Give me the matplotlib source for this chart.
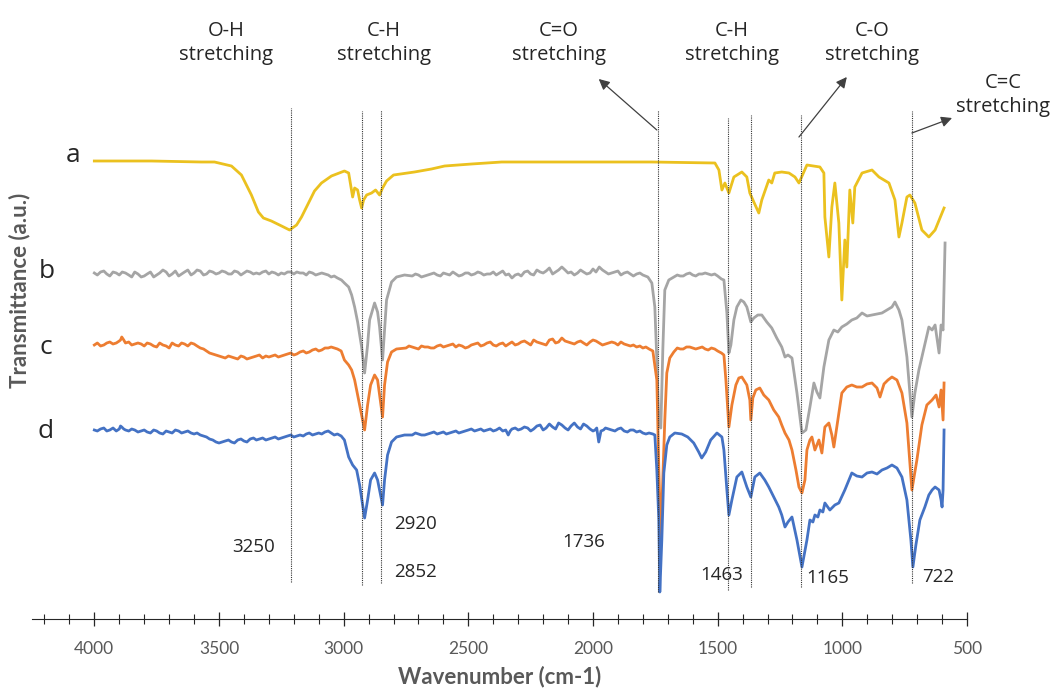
import matplotlib.pyplot as plt
from matplotlib.ticker import MultipleLocator

# FTIR spectra, (wavenumber cm-1, transmittance a.u.)
spec_a = [(4000, 458), (3771, 458), (3571, 457), (3518, 457), (3450, 453), (3410, 444),
          (3370, 424), (3342, 407), (3322, 401), (3290, 398), (3249, 393), (3217, 389),
          (3189, 394), (3169, 402), (3141, 416), (3117, 428), (3089, 436), (3049, 443),
          (2997, 448), (2980, 446), (2972, 434), (2964, 422), (2956, 431), (2944, 429),
          (2936, 419), (2928, 411), (2920, 419), (2908, 424), (2888, 426), (2872, 429),
          (2856, 424), (2844, 431), (2828, 438), (2800, 444), (2716, 447), (2648, 450),
          (2595, 453), (2487, 455), (2366, 457), (2126, 457), (1765, 457), (1511, 456),
          (1495, 449), (1483, 429), (1471, 436), (1455, 426), (1435, 442), (1403, 447),
          (1383, 442), (1371, 426), (1355, 417), (1335, 406), (1323, 419), (1295, 439),
          (1283, 436), (1271, 446), (1243, 447), (1214, 446), (1190, 442), (1174, 436),
          (1142, 454), (1090, 452), (1074, 446), (1070, 402), (1054, 362), (1042, 412),
          (1030, 436), (1014, 396), (1002, 319), (990, 379), (982, 352), (970, 429),
          (958, 396), (950, 432), (921, 446), (881, 449), (853, 442), (813, 436),
          (789, 419), (773, 382), (761, 396), (741, 422), (729, 424), (709, 416),
          (681, 389), (653, 382), (628, 389), (592, 411)]

spec_b = [(4000, 346), (3975, 347), (3950, 345), (3925, 347), (3900, 344), (3875, 346),
          (3850, 342), (3825, 345), (3800, 343), (3775, 347), (3750, 344), (3725, 349),
          (3700, 343), (3675, 348), (3650, 345), (3625, 349), (3600, 346), (3575, 348),
          (3550, 345), (3525, 347), (3500, 346), (3475, 347), (3450, 345), (3425, 347),
          (3400, 346), (3375, 347), (3350, 346), (3325, 347), (3300, 345), (3275, 346),
          (3250, 346), (3225, 347), (3200, 345), (3175, 346), (3150, 344), (3125, 346),
          (3100, 345), (3075, 345), (3050, 342), (3025, 341), (3009, 339), (2997, 336),
          (2980, 332), (2968, 324), (2956, 312), (2944, 297), (2928, 272), (2916, 246),
          (2904, 274), (2896, 299), (2876, 316), (2864, 307), (2856, 292), (2844, 259),
          (2836, 289), (2828, 319), (2808, 337), (2788, 342), (2756, 344), (2725, 343),
          (2700, 344), (2675, 343), (2650, 345), (2625, 344), (2600, 346), (2575, 344),
          (2550, 345), (2525, 344), (2500, 346), (2475, 345), (2450, 346), (2425, 345),
          (2400, 347), (2375, 346), (2350, 344), (2325, 341), (2300, 345), (2275, 347),
          (2250, 345), (2225, 349), (2200, 346), (2175, 351), (2150, 347), (2125, 352),
          (2100, 346), (2075, 344), (2050, 349), (2025, 345), (2000, 350), (1975, 352),
          (1950, 347), (1925, 346), (1900, 348), (1875, 346), (1850, 345), (1825, 345),
          (1800, 344), (1780, 342), (1764, 336), (1752, 312), (1744, 259), (1736, 194),
          (1728, 191), (1720, 269), (1712, 329), (1696, 339), (1676, 342), (1650, 343),
          (1625, 345), (1600, 344), (1575, 345), (1550, 346), (1525, 344), (1500, 343),
          (1485, 340), (1475, 339), (1463, 306), (1455, 266), (1447, 274), (1435, 299),
          (1423, 312), (1407, 319), (1395, 317), (1383, 312), (1367, 297), (1355, 301),
          (1339, 304), (1323, 304), (1303, 297), (1283, 291), (1263, 281), (1243, 272),
          (1230, 262), (1218, 264), (1202, 261), (1182, 226), (1162, 186), (1146, 189),
          (1130, 212), (1114, 236), (1102, 227), (1090, 221), (1074, 252), (1054, 279),
          (1034, 289), (1018, 287), (1002, 292), (982, 295), (962, 299), (942, 301),
          (921, 306), (901, 303), (881, 304), (861, 305), (841, 306), (821, 309),
          (801, 312), (789, 317), (773, 309), (761, 299), (741, 262), (721, 202),
          (709, 226), (693, 249), (681, 262), (665, 279), (653, 292), (640, 289),
          (628, 294), (612, 266), (604, 294), (596, 289), (588, 376)]
# finer noise read between the points above
noise_b = [(3988, 344), (3962, 348), (3938, 343), (3912, 346), (3888, 347), (3862, 344),
           (3838, 347), (3812, 342), (3788, 345), (3762, 342), (3738, 346), (3712, 347),
           (3688, 345), (3662, 343), (3638, 347), (3612, 344), (3588, 349), (3562, 344),
           (3538, 348), (3512, 345), (3488, 348), (3462, 345), (3438, 348), (3412, 344),
           (3388, 348), (3362, 345), (3338, 345), (3312, 348), (3288, 347), (3262, 344),
           (3238, 345), (3212, 347), (3188, 347), (3162, 346), (3138, 347), (3112, 344),
           (3088, 346), (3062, 344), (3038, 343), (2712, 345), (2688, 342), (2662, 344),
           (2638, 346), (2612, 343), (2588, 345), (2562, 347), (2538, 343), (2512, 346),
           (2488, 344), (2462, 347), (2438, 344), (2412, 345), (2388, 344), (2362, 348),
           (2338, 345), (2312, 344), (2288, 343), (2262, 348), (2238, 344), (2212, 347),
           (2188, 348), (2162, 345), (2138, 349), (2112, 349), (2088, 347), (2062, 346),
           (2038, 347), (2012, 346), (1988, 347), (1962, 349), (1938, 345), (1912, 347),
           (1888, 344), (1862, 347), (1838, 343), (1812, 346), (1790, 343), (1662, 344),
           (1638, 343), (1612, 346), (1588, 343), (1562, 345), (1538, 345), (1512, 345)]

spec_c = [(4000, 274), (3975, 273), (3950, 276), (3925, 275), (3900, 278), (3890, 282),
          (3875, 276), (3850, 274), (3825, 276), (3800, 273), (3775, 275), (3750, 272),
          (3725, 274), (3700, 271), (3675, 274), (3650, 276), (3625, 273), (3600, 275),
          (3575, 271), (3550, 268), (3525, 265), (3500, 263), (3475, 261), (3450, 262),
          (3425, 260), (3400, 262), (3375, 261), (3350, 263), (3325, 261), (3300, 262),
          (3275, 264), (3250, 263), (3225, 265), (3200, 264), (3175, 267), (3150, 266),
          (3125, 269), (3100, 268), (3075, 271), (3050, 272), (3025, 270), (3010, 268),
          (2997, 259), (2980, 254), (2968, 249), (2956, 239), (2944, 224), (2928, 204),
          (2916, 189), (2904, 214), (2892, 234), (2876, 244), (2864, 239), (2856, 224),
          (2844, 202), (2836, 234), (2824, 257), (2808, 267), (2788, 270), (2750, 271),
          (2725, 272), (2700, 270), (2675, 272), (2650, 271), (2625, 273), (2600, 272),
          (2575, 274), (2550, 272), (2525, 273), (2500, 272), (2475, 275), (2450, 273),
          (2425, 276), (2400, 274), (2375, 275), (2350, 273), (2325, 277), (2300, 275),
          (2275, 278), (2250, 274), (2225, 277), (2200, 275), (2175, 279), (2150, 276),
          (2125, 281), (2100, 277), (2075, 275), (2050, 278), (2025, 274), (2000, 279),
          (1975, 276), (1950, 275), (1925, 277), (1900, 274), (1875, 275), (1850, 273),
          (1825, 272), (1800, 271), (1775, 270), (1760, 268), (1744, 239), (1736, 149),
          (1728, 82), (1720, 139), (1712, 199), (1704, 246), (1692, 261), (1676, 267),
          (1650, 270), (1625, 272), (1600, 271), (1575, 271), (1550, 270), (1525, 271),
          (1500, 268), (1485, 266), (1475, 264), (1467, 239), (1455, 192), (1443, 214),
          (1427, 234), (1415, 241), (1403, 242), (1383, 234), (1371, 219), (1367, 199),
          (1359, 221), (1347, 229), (1331, 231), (1315, 224), (1295, 219), (1275, 209),
          (1255, 202), (1243, 194), (1230, 186), (1214, 179), (1202, 169), (1186, 149),
          (1174, 132), (1162, 126), (1150, 139), (1142, 169), (1130, 179), (1122, 182),
          (1110, 169), (1094, 179), (1082, 166), (1070, 192), (1054, 196), (1042, 184),
          (1034, 172), (1022, 192), (1002, 226), (982, 232), (962, 234), (942, 232),
          (921, 232), (901, 235), (881, 236), (861, 231), (849, 222), (833, 235),
          (817, 239), (801, 242), (781, 239), (761, 226), (741, 196), (721, 129),
          (701, 159), (681, 194), (661, 214), (640, 219), (624, 224), (612, 212),
          (604, 229), (596, 199), (592, 236)]
noise_c = [(3988, 276), (3962, 274), (3938, 277), (3912, 276), (3895, 279), (3882, 279),
           (3862, 277), (3838, 275), (3812, 275), (3788, 276), (3762, 273), (3738, 276),
           (3712, 273), (3688, 276), (3662, 273), (3638, 275), (3612, 276), (3588, 273),
           (3562, 270), (3538, 266), (3512, 264), (3488, 262), (3462, 263), (3438, 261),
           (3412, 263), (3388, 260), (3362, 262), (3338, 264), (3312, 263), (3288, 263),
           (3262, 262), (3238, 264), (3212, 266), (3188, 265), (3162, 268), (3138, 267),
           (3112, 270), (3088, 269), (3062, 271), (3038, 271), (2738, 273), (2712, 271),
           (2688, 273), (2662, 272), (2638, 271), (2612, 274), (2588, 273), (2562, 275),
           (2538, 274), (2512, 271), (2488, 274), (2462, 276), (2438, 274), (2412, 277),
           (2388, 273), (2362, 276), (2338, 275), (2312, 274), (2288, 277), (2262, 276),
           (2238, 279), (2212, 276), (2188, 274), (2162, 280), (2138, 277), (2112, 278),
           (2088, 276), (2062, 277), (2038, 276), (2012, 277), (1988, 278), (1962, 274),
           (1938, 276), (1912, 276), (1888, 277), (1862, 274), (1838, 274), (1812, 273),
           (1788, 272), (1662, 271), (1638, 270), (1612, 272), (1588, 270), (1562, 272),
           (1538, 269), (1512, 270)]

spec_d = [(4000, 189), (3975, 190), (3950, 188), (3925, 191), (3900, 190), (3890, 192),
          (3875, 189), (3850, 190), (3825, 187), (3800, 189), (3775, 186), (3750, 188),
          (3725, 185), (3700, 187), (3675, 189), (3650, 186), (3625, 188), (3600, 185),
          (3575, 184), (3550, 182), (3525, 179), (3500, 176), (3475, 178), (3450, 177),
          (3425, 179), (3400, 178), (3375, 180), (3350, 179), (3325, 181), (3300, 180),
          (3275, 182), (3250, 181), (3225, 183), (3200, 182), (3175, 184), (3150, 185),
          (3125, 184), (3100, 186), (3075, 187), (3050, 186), (3025, 185), (3010, 183),
          (2997, 179), (2980, 162), (2964, 154), (2948, 149), (2936, 134), (2924, 114),
          (2916, 101), (2904, 119), (2892, 139), (2876, 146), (2864, 139), (2856, 129),
          (2844, 114), (2836, 139), (2824, 164), (2808, 177), (2788, 182), (2756, 184),
          (2725, 184), (2700, 185), (2675, 184), (2650, 186), (2625, 185), (2600, 187),
          (2575, 186), (2550, 188), (2525, 187), (2500, 189), (2475, 188), (2450, 190),
          (2425, 189), (2400, 188), (2375, 191), (2350, 189), (2340, 184), (2325, 190),
          (2300, 189), (2275, 192), (2250, 188), (2225, 193), (2200, 189), (2175, 195),
          (2150, 190), (2125, 194), (2100, 189), (2075, 196), (2050, 190), (2025, 193),
          (2000, 188), (1985, 191), (1977, 177), (1968, 188), (1950, 191), (1925, 189),
          (1900, 190), (1875, 188), (1850, 189), (1825, 187), (1800, 186), (1775, 186),
          (1760, 185), (1752, 184), (1744, 149), (1736, 99), (1732, 27), (1724, 79),
          (1716, 146), (1704, 174), (1692, 182), (1672, 186), (1644, 185), (1620, 182),
          (1596, 176), (1576, 167), (1564, 161), (1548, 167), (1528, 179), (1503, 186),
          (1483, 182), (1475, 169), (1463, 129), (1455, 104), (1443, 119), (1423, 142),
          (1403, 147), (1383, 132), (1367, 122), (1351, 142), (1331, 146), (1311, 139),
          (1295, 132), (1275, 122), (1255, 112), (1243, 104), (1230, 92), (1218, 97),
          (1202, 102), (1182, 79), (1162, 52), (1142, 79), (1130, 99), (1118, 97),
          (1110, 104), (1098, 102), (1090, 109), (1078, 107), (1070, 116), (1050, 109),
          (1030, 114), (1014, 116), (990, 129), (962, 146), (942, 143), (921, 142),
          (901, 146), (881, 147), (861, 145), (841, 149), (821, 151), (801, 154),
          (781, 151), (761, 142), (741, 119), (725, 79), (717, 52), (705, 74),
          (689, 99), (669, 112), (653, 124), (640, 129), (628, 132), (612, 129),
          (604, 119), (600, 112), (596, 129), (592, 189)]
noise_d = [(3988, 188), (3962, 191), (3938, 189), (3912, 188), (3895, 193), (3882, 190),
           (3862, 188), (3838, 189), (3812, 188), (3788, 187), (3762, 189), (3738, 186),
           (3712, 188), (3688, 186), (3662, 188), (3638, 187), (3612, 186), (3588, 186),
           (3562, 183), (3538, 180), (3512, 177), (3488, 177), (3462, 179), (3438, 176),
           (3412, 180), (3388, 177), (3362, 181), (3338, 180), (3312, 179), (3288, 181),
           (3262, 180), (3238, 182), (3212, 184), (3188, 183), (3162, 183), (3138, 186),
           (3112, 185), (3088, 185), (3062, 188), (3038, 184), (2712, 186), (2688, 184),
           (2662, 185), (2638, 187), (2612, 186), (2588, 185), (2562, 187), (2538, 186),
           (2512, 188), (2488, 190), (2462, 189), (2438, 188), (2412, 190), (2388, 189),
           (2362, 188), (2332, 188), (2312, 191), (2288, 190), (2262, 191), (2238, 190),
           (2212, 194), (2188, 191), (2162, 192), (2138, 196), (2112, 191), (2088, 193),
           (2062, 192), (2038, 195), (2012, 190), (1992, 189), (1958, 189), (1938, 190),
           (1912, 188), (1888, 191), (1862, 187), (1838, 189), (1812, 188), (1788, 185)]

series_names = ["a", "b", "c", "d"]
series_colors = ["#EBC11F", "#A5A5A5", "#ED7D31", "#4472C4"]
label_pos = [(4085, 464), (4190, 347), (4195, 271), (4195, 187)]

# dotted marker lines: wavenumber, bottom, top
peak_lines = [(3210, 37, 511), (2928, 34, 508), (2850, 36, 509), (1740, 27, 509),
              (1460, 29, 501), (1365, 32, 504), (1166, 32, 504), (722, 36, 508)]

# band names: text, wavenumber, height
bands = [("O-H\nstretching", 3470, 576), ("C-H\nstretching", 2840, 576),
         ("C=O\nstretching", 2138, 576), ("C-H\nstretching", 1443, 576),
         ("C-O\nstretching", 881, 576), ("C=C\nstretching", 355, 524)]

peak_labels = [("3250", 3362, 72), ("2920", 2712, 95), ("2852", 2712, 47),
               ("1736", 2037, 77), ("1463", 1483, 44), ("1165", 1058, 41),
               ("722", 616, 42)]

# arrows: tail -> head
arrows = [((1744, 489), (1977, 540)), ((1174, 482), (982, 542)), ((721, 486), (560, 501))]

fig = plt.figure(figsize=(10.57, 6.88), dpi=100)
ax = fig.add_axes([32 / 1057, 69 / 688, 935 / 1057, 619 / 688])

all_specs = [spec_a, spec_b + noise_b, spec_c + noise_c, spec_d + noise_d]
for spec, col in zip(all_specs, series_colors):
    spec = sorted(spec, reverse=True)
    wn = [p[0] for p in spec]
    tr = [p[1] for p in spec]
    ax.plot(wn, tr, color=col, lw=2.0, solid_joinstyle="round")

for (x, y), name in zip(label_pos, series_names):
    ax.text(x, y, name, fontsize=19, family="Open Sans", color="#262626",
            ha="center", va="center")

for x, y0, y1 in peak_lines:
    ax.plot([x, x], [y0, y1], color="#333333", lw=0.8, ls=(0, (1, 1)))

for txt, x, y in bands:
    ax.text(x, y, txt, fontsize=14.5, family="Open Sans", color="#262626",
            ha="center", va="center", linespacing=1.3, clip_on=False)

for txt, x, y in peak_labels:
    ax.text(x, y, txt, fontsize=13.5, family="Open Sans", color="#262626",
            ha="center", va="center")

for tail, head in arrows:
    ax.annotate("", xy=head, xytext=tail, annotation_clip=False,
                arrowprops=dict(arrowstyle="-|>", color="#404040", lw=0.9,
                                mutation_scale=16, shrinkA=0, shrinkB=0))

ax.set_xlim(4250, 500)
ax.set_ylim(0, 619)
for s in ["left", "right", "top"]:
    ax.spines[s].set_visible(False)
ax.spines["bottom"].set_color("#262626")
ax.set_yticks([])
ax.xaxis.set_major_locator(MultipleLocator(500))
ax.xaxis.set_minor_locator(MultipleLocator(100))
ax.tick_params(axis="x", which="major", direction="inout", length=10, width=0.9,
               colors="#262626", labelcolor="#595959", labelsize=12.5, pad=11)
ax.tick_params(axis="x", which="minor", direction="inout", length=7, width=0.8,
               colors="#262626")
for lbl in ax.get_xticklabels():
    lbl.set_family("Lato")
ax.set_xlabel("Wavenumber (cm-1)", fontsize=16, fontweight="bold", color="#595959",
              family="Lato", labelpad=6)
fig.text(20 / 1057, 1 - 290 / 688, "Transmittance (a.u.)", rotation=90, fontsize=16,
         fontweight="bold", color="#595959", family="Lato", ha="center", va="center")

fig.savefig("out.png", dpi=100)
